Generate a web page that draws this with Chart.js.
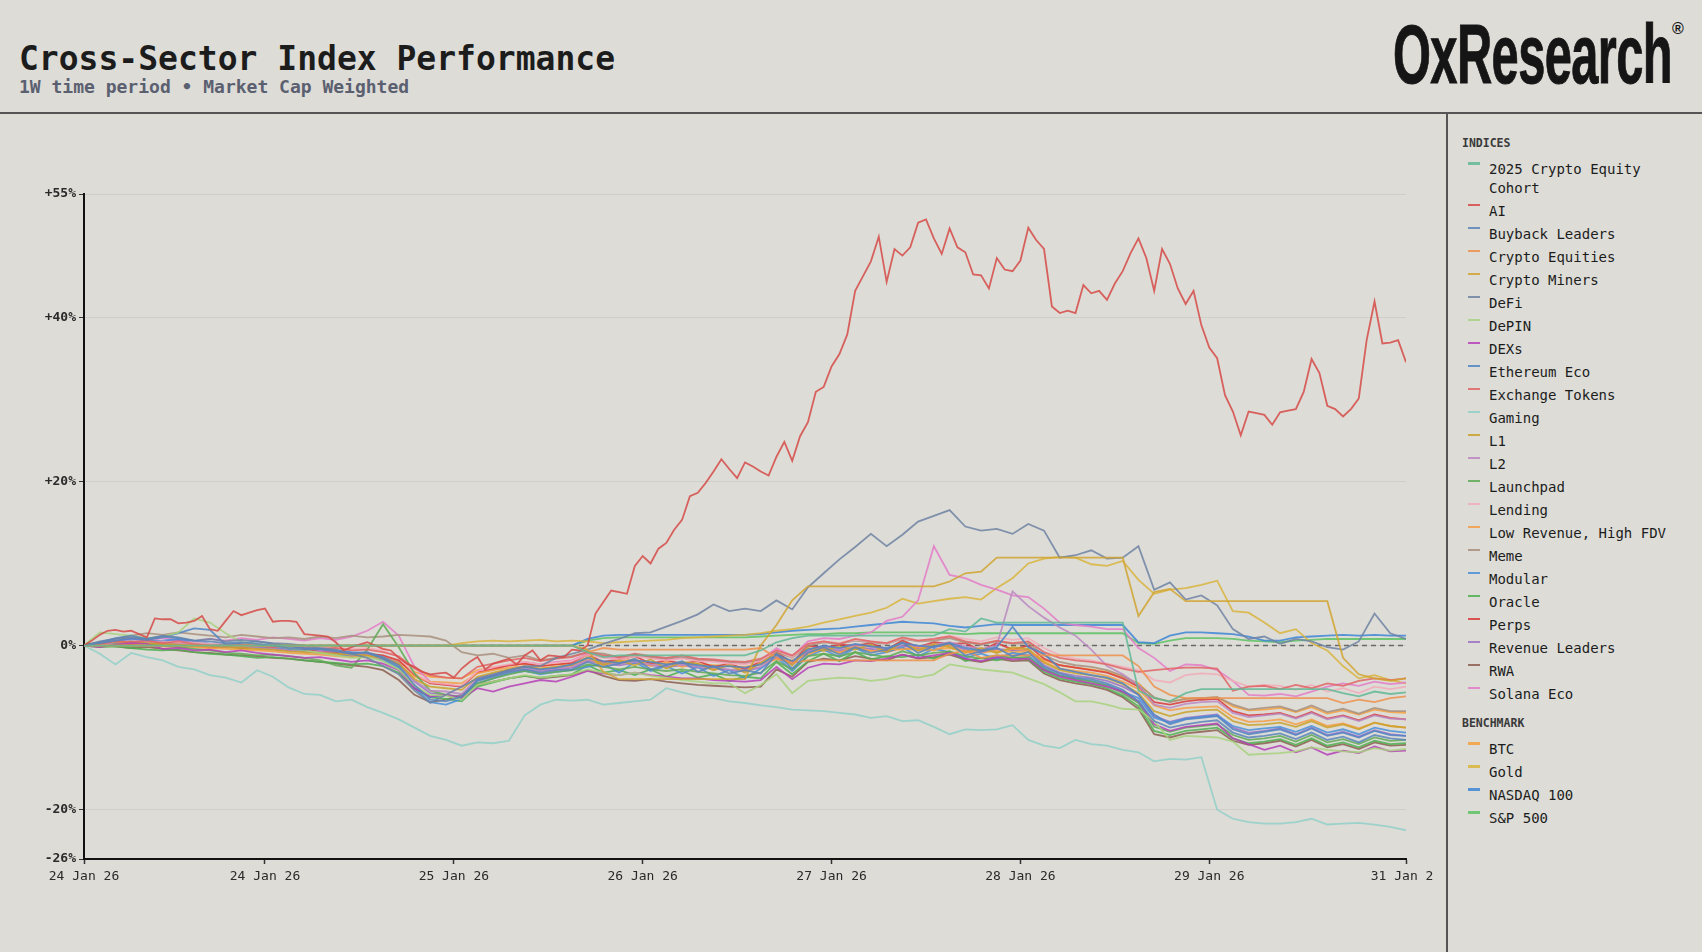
<!DOCTYPE html>
<html>
<head>
<meta charset="utf-8">
<script src="https://cdn.jsdelivr.net/npm/chart.js@4.4.1/dist/chart.umd.min.js"></script>
<style>
  html, body { margin: 0; padding: 0; }
  body { width: 1702px; height: 952px; background: #dddcd7; position: relative; overflow: hidden;
         font-family: 'DejaVu Sans Mono', monospace; color: #1c1c1c; }
  #title { position: absolute; left: 19px; top: 40px; font-size: 33px; font-weight: bold; line-height: 38px; white-space: nowrap; }
  #subtitle { position: absolute; left: 19px; top: 76px; font-size: 18px; font-weight: bold; line-height: 22px; color: #5b6070; white-space: nowrap; }
  #logo { position: absolute; left: 1393px; top: 13px; font-family: 'Liberation Sans', Arial, sans-serif; font-weight: bold;
          font-size: 83px; line-height: 83px; color: #151515; white-space: nowrap; transform-origin: left top; letter-spacing: -1px;
          -webkit-text-stroke: 1px #151515; }
  #reg { position: absolute; left: 1672px; top: 20px; font-family: 'Liberation Sans', Arial, sans-serif; font-weight: bold; font-size: 16px; color: #151515; }
  #hline { position: absolute; left: 0; top: 112px; width: 1702px; height: 1.5px; background: #555; }
  #vline { position: absolute; left: 1446px; top: 113px; width: 1.5px; height: 839px; background: #555; }
  #chartBox { position: absolute; left: 0; top: 113px; width: 1433px; height: 839px; overflow: hidden; }
  #legend { position: absolute; left: 1462px; top: 134px; width: 236px; }
  .lg-head { font-size: 11.5px; font-weight: bold; color: #3a3a3a; height: 18px; line-height: 18px; margin-bottom: 8px; }
  .lg-head.second { margin-top: 11px; }
  .lg-row { display: flex; align-items: flex-start; font-size: 14px; line-height: 18.5px; margin-bottom: 4.5px; color: #1c1c1c; }
  .lg-sw { flex: none; width: 12px; height: 2.5px; margin: 2px 9.5px 0 5.5px; }
  .lg-txt { width: 190px; }
</style>
</head>
<body>
<div id="title">Cross-Sector Index Performance</div>
<div id="subtitle">1W time period • Market Cap Weighted</div>
<div id="logo">OxResearch</div>
<div id="reg">®</div>
<div id="hline"></div>
<div id="vline"></div>
<div id="chartBox"><canvas id="perfChart" width="1500" height="839"></canvas></div>
<div id="legend"></div>

<script>
// x axis is hours since 24 Jan 00:00, one week
var tickHours = [0, 23, 47, 71, 95, 119, 143, 168];
var tickLabels = ['24 Jan 26', '24 Jan 26', '25 Jan 26', '26 Jan 26', '27 Jan 26', '28 Jan 26', '29 Jan 26', '31 Jan 26'];
var yTicks = [-26, -20, 0, 20, 40, 55];

// AI is sampled hourly, every other series every 2 hours (% change)
var ai = [
  0, 0.6, 1.3, 1.8, 1.9, 1.7, 1.8, 1.4, 1.0, 3.3,
  3.2, 3.2, 2.7, 2.8, 3.0, 3.6, 2.0, 1.8, 3.0, 4.2,
  3.7, 4.0, 4.3, 4.5, 2.9, 3.0, 3.0, 2.9, 1.4, 1.3,
  1.2, 1.1, 0.4, -0.6, -0.2, 0.1, 0.4, 0.0, -0.4, -0.6,
  -1.5, -2.2, -2.6, -3.2, -3.5, -3.4, -3.3, -3.9, -2.8, -2.0,
  -1.4, -2.9, -2.2, -1.9, -1.6, -2.3, -1.2, -0.6, -1.8, -1.2,
  -1.3, -1.4, -0.5, -0.6, 0.0, 3.9, 5.3, 6.7, 6.5, 6.3,
  9.7, 10.9, 10.0, 11.8, 12.5, 14.1, 15.3, 18.2, 18.6, 19.8,
  21.2, 22.7, 21.5, 20.4, 22.3, 21.8, 21.2, 20.7, 23.0, 24.8,
  22.5, 25.5, 27.2, 30.9, 31.5, 34.0, 35.5, 37.9, 43.2, 45.0,
  46.8, 49.8, 44.3, 48.3, 47.5, 48.5, 51.5, 51.9, 49.6, 47.7,
  50.8, 48.5, 47.9, 45.2, 45.1, 43.5, 47.2, 45.8, 45.6, 46.9,
  50.9, 49.4, 48.3, 41.3, 40.5, 40.8, 40.5, 43.9, 42.9, 43.2,
  42.1, 44.1, 45.6, 47.8, 49.6, 47.2, 43.2, 48.3, 46.5, 43.5,
  41.6, 43.2, 39.0, 36.3, 35.0, 30.5, 28.5, 25.6, 28.5, 28.3,
  28.1, 26.9, 28.4, 28.6, 28.8, 30.9, 34.9, 33.2, 29.2, 28.8,
  27.9, 28.8, 30.1, 37.2, 41.9, 36.8, 36.9, 37.2, 34.5
];
var cohort2025 = [
  0, 0, 0, 0, 0, 0, 0, 0, 0, 0,
  0, 0, 0, 0, 0, 0, 0, 0, 0, 0,
  0, 0, 0, 0, 0, 0, 0, 0, 0, 0,
  0, 0, -0.8, -1.4, -1.2, -1.2, -1.2, -1.2, -1.2, -1.2,
  -1.2, -1.2, -1.2, -0.6, 0.4, 0.9, 1.2, 1.2, 1.2, 1.2,
  1.2, 1.2, 1.2, 1.2, 1.2, 2.0, 1.7, 3.3, 2.8, 2.8,
  2.8, 2.8, 2.8, 2.8, 2.8, 2.8, 2.8, -5.5, -6.4, -6.8,
  -5.8, -5.3, -5.3, -5.3, -5.3, -5.3, -5.3, -5.3, -5.3, -5.3,
  -5.8, -6.2, -5.6, -5.9, -5.7
];
var buyback = [
  0, 0.4, 0.9, 1.2, 0.8, 1.1, 0.9, 0.6, 0.5, 0.3,
  0.4, 0.2, 0.0, -0.3, -0.5, -0.4, -0.7, -1.0, -0.8, -1.4,
  -2.4, -4.8, -6.6, -6.8, -6.2, -4.3, -3.8, -3.2, -2.9, -3.3,
  -3.0, -2.9, -2.0, -2.6, -2.2, -1.6, -2.9, -2.4, -1.9, -3.2,
  -2.5, -3.4, -3.0, -3.4, -1.0, -2.8, -0.9, -0.2, -1.1, -0.2,
  -0.9, -0.5, 0.4, -0.9, -0.1, 0.3, -1.2, -0.7, -0.3, -1.3,
  -0.8, -2.6, -3.4, -3.9, -4.1, -4.6, -5.4, -6.8, -9.2, -10.0,
  -9.6, -9.3, -9.1, -10.6, -11.2, -11.0, -10.7, -11.4, -10.6, -11.5,
  -11.1, -11.8, -10.9, -11.3, -11.5
];
var cryptoEquities = [
  0, 0, 0, 0, 0, 0, 0, 0, 0, 0,
  0, 0, 0, 0, 0, 0, 0, 0, 0, 0,
  0, 0, 0, 0, 0, 0, 0, 0, 0, 0,
  0, 0, -0.8, -0.3, -0.5, -0.5, -0.5, -0.5, -0.5, -0.5,
  -0.5, -0.5, -0.5, -0.3, -1.5, -2.1, -1.8, -1.8, -1.8, -1.8,
  -1.8, -1.8, -1.8, -1.8, -1.8, -1.0, -0.6, -1.5, -1.2, -1.2,
  -1.2, -1.2, -1.2, -1.2, -1.2, -1.2, -1.2, -2.5, -5.0, -6.0,
  -6.4, -6.4, -6.4, -6.4, -6.4, -6.4, -6.4, -6.4, -6.4, -6.4,
  -7.0, -6.6, -6.9, -6.4, -6.2
];
var cryptoMiners = [
  0, 0, 0, 0, 0, 0, 0, 0, 0, 0,
  0, 0, 0, 0, 0, 0, 0, 0, 0, 0,
  0, 0, 0, 0, 0, 0, 0, 0, 0, 0,
  0, 0, -0.5, -3.2, -4.1, -4.1, -4.1, -4.1, -4.1, -4.1,
  -4.1, -4.1, -4.1, 0.0, 2.5, 5.5, 7.2, 7.2, 7.2, 7.2,
  7.2, 7.2, 7.2, 7.2, 7.2, 7.8, 8.8, 9.0, 10.7, 10.7,
  10.7, 10.7, 10.7, 10.7, 10.7, 10.7, 10.7, 3.6, 6.5, 6.9,
  5.4, 5.4, 5.4, 5.4, 5.4, 5.4, 5.4, 5.4, 5.4, 5.4,
  -1.5, -3.5, -4.0, -4.3, -4.0
];
var defi = [
  0, 0.5, 0.8, 1.0, 0.8, 1.2, 1.0, 0.6, 0.8, 0.5,
  0.7, 0.5, 0.3, 0.2, 0.0, -0.3, -0.5, -1.0, -1.5, -2.5,
  -3.5, -5.5, -7.0, -6.0, -5.0, -4.0, -3.5, -3.0, -2.5, -2.5,
  -1.5, -1.0, -0.5, 0.2, 0.8, 1.5, 1.6, 2.3, 3.0, 3.8,
  5.0, 4.2, 4.5, 4.2, 5.5, 4.4, 7.1, 8.8, 10.5, 12.0,
  13.6, 12.1, 13.5, 15.1, 15.8, 16.5, 14.5, 14.0, 14.2, 13.6,
  14.8, 14.0, 10.7, 11.0, 11.6, 10.6, 10.7, 12.1, 6.8, 7.7,
  5.6, 6.1, 4.9, 2.0, 0.8, 1.1, 0.2, 0.8, 0.5, -0.2,
  -0.5, 0.5, 3.9, 1.5, 0.8
];
var depin = [
  0, 1.6, 1.4, 1.2, 0.9, 1.1, 1.6, 3.3, 2.8, 1.5,
  0.4, 0.2, 0.0, -0.3, -0.6, -0.9, -1.2, -1.5, -1.4, -1.9,
  -2.9, -4.9, -6.0, -6.1, -6.6, -4.8, -4.4, -4.0, -3.6, -3.9,
  -3.7, -3.5, -2.9, -3.3, -3.6, -3.3, -3.7, -3.9, -4.2, -4.4,
  -4.6, -4.6, -5.8, -4.8, -3.5, -5.8, -4.3, -4.1, -3.9, -4.0,
  -4.3, -4.1, -3.6, -3.9, -3.5, -2.3, -2.6, -2.9, -3.1, -3.3,
  -4.0, -4.7, -5.7, -6.8, -6.8, -7.2, -7.7, -7.8, -9.2, -11.5,
  -11.0, -11.1, -11.2, -11.7, -13.3, -13.2, -13.1, -12.9, -12.4, -12.7,
  -12.9, -13.0, -12.5, -12.8, -12.6
];
var dexs = [
  0, -0.2, 0.1, 0.3, 0.2, -0.4, -0.3, -0.6, -0.5, -0.8,
  -0.6, -0.9, -1.1, -1.3, -1.5, -1.4, -1.7, -2.0, -1.8, -2.2,
  -3.0, -5.2, -6.2, -6.0, -6.4, -5.2, -5.6, -5.0, -4.6, -4.2,
  -4.4, -3.8, -3.1, -3.4, -3.6, -3.3, -3.6, -3.8, -4.0, -4.0,
  -4.2, -4.3, -4.4, -4.2, -2.6, -4.1, -2.7, -2.2, -2.3, -1.8,
  -1.9, -1.6, -1.1, -1.5, -1.2, -0.9, -1.6, -1.9, -1.4, -1.7,
  -1.6, -3.0, -3.8, -4.2, -4.6, -5.0, -5.6, -6.8, -9.6, -10.4,
  -9.9, -9.7, -9.5, -11.3, -12.0, -12.7, -12.2, -13.0, -12.4, -13.3,
  -12.8, -13.1, -12.3, -12.9, -12.8
];
var ethereumEco = [
  0, 0.3, 0.6, 0.9, 0.7, 1.0, 1.5, 2.1, 1.9, 0.1,
  0.3, 0.5, 0.2, -0.1, -0.3, -0.4, -0.6, -0.8, -0.9, -1.6,
  -2.6, -5.0, -6.3, -6.0, -6.5, -4.2, -3.6, -3.0, -2.6, -2.9,
  -2.7, -2.3, -1.5, -1.9, -2.1, -1.8, -2.0, -2.3, -2.1, -2.4,
  -2.6, -2.5, -2.7, -2.3, -1.1, -1.9, -0.5, 0.0, -0.3, 0.2,
  -0.1, -0.3, 0.3, 0.0, -0.2, 0.3, -0.3, -0.6, -0.2, 2.3,
  -0.2, -1.0, -2.8, -3.2, -3.6, -3.9, -4.6, -6.0, -8.4, -9.6,
  -9.0, -8.8, -8.6, -10.2, -10.8, -10.5, -10.2, -10.9, -10.1, -11.0,
  -10.6, -11.2, -10.4, -10.9, -11.0
];
var exchangeTokens = [
  0, 0.2, 0.5, 0.4, 0.6, 0.3, 0.5, 0.2, 0.0, -0.1,
  0.1, 0.0, -0.2, -0.1, -0.3, -0.4, -0.3, -0.6, -0.5, -0.8,
  -1.3, -2.8, -3.6, -3.9, -4.0, -2.6, -2.2, -1.8, -1.5, -1.9,
  -1.6, -1.4, -0.8, -1.2, -1.4, -1.0, -1.3, -1.5, -1.2, -1.6,
  -1.7, -1.9, -2.0, -1.6, -0.6, -1.2, 0.2, 0.5, 0.2, 0.8,
  0.5, 0.3, 1.0, 0.6, 0.8, 1.1, 0.5, 0.2, 0.6, 0.3,
  0.5, -0.8, -1.5, -1.8, -2.0, -2.3, -2.8, -3.2, -3.0, -2.8,
  -2.7, -2.7, -2.8, -5.5, -5.0, -4.9, -5.3, -4.8, -5.2, -4.6,
  -4.9, -4.3, -4.0, -4.2, -4.0
];
var gaming = [
  0, -1.0, -2.3, -0.9, -1.4, -1.8, -2.6, -2.9, -3.6, -3.9,
  -4.5, -3.0, -3.8, -5.1, -5.9, -6.0, -6.8, -6.6, -7.5, -8.2,
  -9.0, -10.0, -11.0, -11.5, -12.2, -11.8, -11.9, -11.6, -8.5, -7.2,
  -6.6, -6.7, -6.6, -7.2, -7.0, -6.8, -6.6, -5.2, -5.7, -6.2,
  -6.4, -6.8, -7.0, -7.3, -7.5, -7.8, -7.9, -8.0, -8.2, -8.4,
  -8.8, -8.6, -9.2, -9.1, -9.9, -10.8, -10.2, -10.3, -10.2, -9.7,
  -11.5, -12.2, -12.5, -11.5, -12.0, -12.2, -12.7, -13.0, -14.1, -13.8,
  -13.9, -13.6, -20.0, -21.1, -21.5, -21.7, -21.7, -21.5, -21.1, -21.8,
  -21.7, -21.6, -21.8, -22.1, -22.5
];
var l1 = [
  0, 0.3, 0.5, 0.4, 0.3, 0.2, 0.1, 0.0, -0.1, -0.2,
  -0.3, -0.4, -0.5, -0.7, -0.8, -0.9, -1.0, -1.1, -1.2, -1.5,
  -2.2, -4.1, -5.0, -5.2, -5.4, -3.8, -3.3, -2.9, -2.6, -2.8,
  -2.6, -2.4, -1.4, -2.3, -1.8, -2.4, -1.7, -2.8, -2.0, -2.2,
  -3.0, -2.4, -3.3, -2.1, -1.0, -2.4, -0.3, -0.6, -0.1, -0.5,
  0.1, -0.8, 0.4, -0.6, 0.2, -0.2, -0.8, -0.3, -0.9, -0.2,
  -0.4, -2.1, -3.0, -3.4, -3.6, -4.0, -4.7, -5.8, -8.0, -8.6,
  -8.1, -7.9, -7.8, -9.2, -9.7, -9.6, -9.4, -9.9, -9.2, -10.0,
  -9.6, -10.2, -9.4, -9.8, -10.0
];
var l2 = [
  0, 0.1, 0.4, 0.5, 0.3, 0.4, 0.2, 0.1, 0.0, -0.2,
  -0.1, -0.3, -0.4, -0.6, -0.7, -0.8, -1.0, -1.1, -1.0, -1.4,
  -2.1, -4.3, -5.5, -5.6, -5.9, -4.0, -3.5, -3.1, -2.8, -3.0,
  -2.8, -2.6, -1.8, -2.1, -2.3, -2.0, -2.3, -2.5, -2.3, -2.6,
  -2.7, -2.9, -3.0, -2.6, -1.3, -2.2, -0.5, -0.2, -0.4, 0.1,
  -0.2, -0.4, 0.3, -0.1, 0.1, 0.4, -0.1, -0.4, 0.0, 6.6,
  4.8, 3.4, 2.2, 1.2, -0.5, -2.5, -3.5, -4.8, -7.2, -7.6,
  -7.1, -6.9, -6.8, -8.2, -8.7, -8.5, -8.3, -8.9, -8.2, -9.0,
  -8.6, -9.2, -8.5, -8.9, -9.0
];
var launchpad = [
  0, 0.4, 0.3, 0.5, 0.2, 0.0, -0.2, -0.4, -0.6, -0.9,
  -1.0, -1.2, -1.1, -1.3, -1.5, -1.8, -2.4, -2.7, -0.5, 2.6,
  -0.2, -3.4, -5.5, -6.0, -6.3, -4.6, -4.0, -3.5, -3.1, -3.4,
  -3.2, -3.0, -2.3, -2.6, -2.9, -2.6, -2.9, -3.1, -2.9, -3.2,
  -3.4, -3.6, -3.7, -3.3, -1.9, -2.9, -1.3, -1.0, -1.3, -0.8,
  -1.1, -1.4, -0.7, -1.2, -0.9, -0.7, -1.3, -1.6, -1.2, -1.5,
  -1.4, -2.9, -3.7, -4.1, -4.4, -4.9, -5.8, -7.0, -9.9, -10.5,
  -10.0, -9.8, -9.6, -10.9, -11.5, -11.3, -11.0, -11.7, -10.9, -11.8,
  -11.4, -12.0, -11.2, -11.6, -11.5
];
var lending = [
  0, 0.2, 0.3, 0.6, 0.4, 0.5, 0.3, 0.4, 0.2, 0.3,
  0.1, 0.2, 0.0, -0.1, -0.2, -0.1, -0.3, -0.4, -0.3, -0.6,
  -1.4, -3.4, -4.5, -4.7, -4.9, -3.1, -2.6, -2.3, -2.0, -2.3,
  -2.1, -1.9, -1.1, -1.5, -1.7, -1.3, -1.6, -1.8, -1.6, -1.9,
  -2.0, -2.2, -2.3, -1.9, -0.6, -1.4, 0.2, 0.5, 0.3, 0.7,
  0.5, 0.3, 0.9, 0.6, 0.8, 1.2, 0.8, 0.5, 1.0, 0.7,
  0.9, -0.3, -1.2, -1.6, -1.8, -2.2, -2.6, -3.0, -4.2, -4.5,
  -3.6, -3.4, -3.5, -4.3, -5.0, -4.8, -4.9, -5.4, -4.8, -5.6,
  -5.2, -5.8, -5.0, -5.3, -5.0
];
var lowRevenue = [
  0, 0.1, 0.2, 0.3, 0.1, 0.0, -0.1, -0.2, -0.3, -0.4,
  -0.5, -0.6, -0.7, -0.9, -1.0, -1.1, -1.3, -1.4, -1.3, -1.6,
  -2.3, -3.8, -4.4, -4.5, -4.6, -3.4, -3.0, -2.7, -2.5, -2.8,
  -2.6, -2.4, -1.6, -2.4, -1.9, -1.7, -2.5, -2.0, -2.6, -2.2,
  -2.9, -2.3, -3.1, -2.2, -1.7, -1.8, -1.1, -0.3, -0.9, -0.1,
  -0.7, -0.4, -0.5, -0.2, -0.6, 0.1, -0.9, -0.5, -0.8, -0.4,
  -0.6, -2.0, -2.8, -3.1, -3.3, -3.7, -4.4, -5.3, -7.3, -7.9,
  -7.6, -7.5, -7.4, -8.7, -9.3, -9.2, -9.0, -9.6, -9.0, -9.8,
  -9.5, -10.1, -9.4, -9.8, -10.0
];
var meme = [
  0, 0.4, 0.8, 1.2, 1.5, 1.3, 1.6, 1.4, 1.2, 1.0,
  1.3, 1.1, 0.9, 1.0, 0.8, 1.1, 0.9, 1.2, 1.0, 1.1,
  1.3, 1.2, 1.1, 0.6, -0.8, -1.2, -1.0, -1.5, -1.2, -1.8,
  -1.5, -1.3, -0.8, -1.0, -1.4, -1.1, -1.4, -1.6, -1.4, -1.7,
  -1.8, -2.0, -2.1, -1.8, -0.8, -1.5, 0.0, 0.4, 0.2, 0.6,
  0.4, 0.2, 0.8, 0.5, 0.6, 0.9, 0.4, 0.1, 0.5, 0.2,
  0.3, -1.2, -2.0, -2.4, -2.6, -3.0, -3.7, -4.8, -6.3, -6.9,
  -6.5, -6.4, -6.3, -7.2, -7.8, -7.6, -7.4, -8.0, -7.3, -8.1,
  -7.7, -8.3, -7.6, -8.0, -8.0
];
var modular = [
  0, 0.2, 0.4, 0.7, 0.5, 0.6, 0.8, 0.5, 0.2, 0.1,
  0.0, -0.2, -0.4, -0.5, -0.7, -0.9, -1.1, -1.3, -1.2, -1.8,
  -2.8, -5.2, -6.9, -7.2, -6.5, -4.6, -4.0, -3.4, -3.1, -3.5,
  -3.2, -3.0, -2.6, -2.2, -3.3, -2.0, -3.1, -2.5, -3.4, -2.6,
  -3.7, -3.0, -4.0, -2.8, -1.4, -3.1, -1.3, -0.5, -1.4, -0.3,
  -1.2, -0.8, -0.2, -1.3, -0.4, -0.8, -1.5, -1.0, -1.6, -0.9,
  -1.2, -2.8, -3.6, -4.0, -4.3, -4.8, -5.6, -6.4, -8.8, -9.4,
  -8.9, -8.7, -8.5, -9.8, -10.3, -10.1, -9.9, -10.5, -9.8, -10.6,
  -10.2, -10.8, -10.0, -10.4, -10.6
];
var oracle = [
  0, -0.2, -0.1, -0.3, -0.5, -0.6, -0.5, -0.8, -1.0, -1.1,
  -1.3, -1.5, -1.4, -1.6, -1.8, -2.0, -2.1, -2.3, -2.2, -2.5,
  -3.3, -5.3, -6.3, -6.5, -6.8, -5.0, -4.5, -4.0, -3.7, -3.9,
  -3.7, -3.5, -2.4, -3.3, -3.0, -3.6, -2.9, -3.8, -3.1, -3.9,
  -3.5, -4.3, -3.8, -4.0, -2.0, -3.5, -1.9, -1.0, -1.9, -0.8,
  -1.7, -1.3, -1.4, -1.1, -1.6, -0.7, -1.9, -1.5, -1.8, -1.4,
  -1.7, -3.2, -4.0, -4.4, -4.7, -5.2, -6.1, -7.4, -10.4, -10.9,
  -10.4, -10.2, -10.0, -11.3, -11.9, -11.7, -11.4, -12.1, -11.3, -12.2,
  -11.8, -12.4, -11.6, -12.0, -11.9
];
var perps = [
  0, 0.1, 0.3, 0.2, 0.4, 0.1, 0.2, 0.0, -0.2, -0.1,
  -0.3, -0.2, -0.4, -0.6, -0.5, -0.8, -0.9, -1.1, -1.0, -1.2,
  -1.8, -3.6, -4.6, -4.8, -5.0, -3.3, -2.9, -2.4, -2.2, -2.5,
  -2.3, -2.1, -1.1, -2.0, -1.7, -1.3, -2.2, -1.8, -2.2, -1.9,
  -2.6, -2.2, -2.9, -1.9, -0.8, -2.1, 0.0, -0.3, 0.1, 0.0,
  0.3, -0.5, 0.6, -0.2, 0.4, 0.2, 0.3, -0.6, 0.3, -0.5,
  0.0, -1.6, -2.4, -2.7, -3.0, -3.3, -4.0, -5.0, -6.9, -7.2,
  -6.8, -6.6, -6.5, -8.0, -8.5, -8.4, -8.2, -8.8, -8.1, -8.9,
  -8.5, -9.1, -8.4, -8.8, -9.0
];
var revenueLeaders = [
  0, 0.2, 0.6, 0.8, 0.6, 0.5, 0.7, 0.4, 0.2, 0.1,
  0.2, 0.0, -0.2, -0.4, -0.5, -0.6, -0.8, -0.9, -1.0, -1.4,
  -2.2, -4.4, -5.8, -6.0, -6.2, -4.2, -3.7, -3.2, -2.9, -3.1,
  -2.9, -2.7, -1.9, -2.2, -2.4, -2.1, -2.4, -2.6, -2.4, -2.7,
  -2.8, -3.0, -3.1, -2.7, -1.4, -2.3, -0.7, -0.4, -0.6, -0.2,
  -0.4, -0.6, 0.0, -0.4, -0.2, 0.1, -0.5, -0.8, -0.4, -0.6,
  -0.5, -2.4, -3.3, -3.7, -3.9, -4.3, -5.0, -6.0, -8.6, -9.3,
  -8.8, -8.6, -8.4, -10.0, -10.6, -10.4, -10.1, -10.8, -10.0, -10.9,
  -10.5, -11.1, -10.3, -10.8, -11.0
];
var rwa = [
  0, 0.1, -0.1, -0.3, -0.2, -0.4, -0.6, -0.8, -0.9, -1.1,
  -1.2, -1.3, -1.5, -1.6, -1.8, -2.0, -2.2, -2.4, -2.6, -3.0,
  -4.2, -6.0, -6.9, -6.6, -6.0, -4.8, -4.4, -4.0, -3.7, -4.0,
  -3.8, -3.6, -3.0, -3.7, -4.2, -4.3, -4.1, -4.4, -4.6, -4.8,
  -4.9, -5.0, -5.1, -5.0, -2.9, -3.8, -2.0, -1.6, -1.8, -1.3,
  -1.6, -1.8, -1.1, -1.6, -1.4, -1.1, -1.7, -2.0, -1.6, -1.9,
  -1.8, -3.4, -4.2, -4.6, -4.9, -5.4, -6.3, -7.7, -10.8, -11.2,
  -10.7, -10.5, -10.3, -11.6, -12.1, -11.9, -11.6, -12.3, -11.5, -12.4,
  -12.0, -12.6, -11.8, -12.2, -12.1
];
var solanaEco = [
  0, 0.3, 0.5, 0.8, 0.6, 0.9, 0.7, 0.5, 0.8, 0.6,
  0.9, 0.7, 1.0, 0.8, 0.6, 0.9, 0.7, 1.1, 1.8, 2.9,
  1.2, -2.6, -4.4, -4.8, -5.0, -3.2, -2.8, -2.4, -2.0, -2.3,
  -2.0, -1.8, -1.0, -1.4, -1.6, -1.2, -1.5, -1.7, -1.5, -1.8,
  -1.9, -2.1, -2.2, -1.8, -0.3, -1.3, 0.5, 0.9, 0.8, 1.2,
  1.6, 3.0, 3.5, 5.5, 12.1, 8.6, 8.2, 7.4, 6.8, 6.1,
  5.9, 4.5, 2.8, 2.5, 2.3, 2.0, 2.0, -0.3, -1.5, -3.1,
  -2.3, -2.4, -3.0, -4.3, -6.0, -6.1, -5.9, -6.2, -5.6, -5.0,
  -4.6, -4.9, -4.4, -4.7, -4.5
];
var btc = [
  0, 0.1, 0.2, 0.1, 0.0, -0.1, -0.2, -0.1, -0.3, -0.2,
  -0.3, -0.4, -0.5, -0.6, -0.7, -0.8, -0.9, -1.0, -1.0, -1.3,
  -2.0, -3.2, -3.8, -3.9, -4.0, -3.0, -2.7, -2.4, -2.2, -2.5,
  -2.3, -2.2, -1.8, -2.0, -2.1, -1.9, -2.1, -2.2, -2.1, -2.3,
  -2.4, -2.5, -2.6, -2.3, -1.4, -1.9, -0.9, -0.6, -0.8, -0.4,
  -0.6, -0.8, -0.3, -0.6, -0.5, -0.3, -0.7, -0.9, -0.6, -0.8,
  -0.7, -1.8, -2.4, -2.7, -2.9, -3.2, -3.8, -4.6, -6.4, -6.8,
  -6.5, -6.4, -6.3, -7.4, -7.9, -7.8, -7.6, -8.1, -7.5, -8.3,
  -7.9, -8.4, -7.8, -8.1, -8.2
];
var gold = [
  0, 0, 0, 0, 0, 0, 0, 0, 0, 0,
  0, 0, 0, 0, 0, 0, 0, 0, 0, 0,
  0, 0, 0, 0, 0.3, 0.5, 0.6, 0.5, 0.6, 0.7,
  0.5, 0.6, 0.5, 0.3, 0.4, 0.5, 0.6, 0.7, 0.9, 1.0,
  1.1, 1.2, 1.3, 1.5, 1.8, 2.0, 2.3, 2.8, 3.2, 3.6,
  4.0, 4.6, 5.7, 5.1, 5.4, 5.7, 5.9, 5.6, 7.0, 8.2,
  10.0, 10.6, 10.8, 10.7, 9.9, 9.7, 10.3, 8.0, 6.3, 6.8,
  7.0, 7.4, 7.9, 4.2, 4.0, 2.8, 1.5, 2.0, 0.3, -0.6,
  -2.5, -4.0, -3.6, -4.2, -4.6
];
var nasdaq100 = [
  0, 0, 0, 0, 0, 0, 0, 0, 0, 0,
  0, 0, 0, 0, 0, 0, 0, 0, 0, 0,
  0, 0, 0, 0, 0, 0, 0, 0, 0, 0,
  0, 0, 0.8, 1.2, 1.3, 1.3, 1.3, 1.3, 1.3, 1.3,
  1.3, 1.3, 1.3, 1.4, 1.6, 1.8, 1.9, 2.0, 2.1, 2.3,
  2.5, 2.7, 2.9, 2.8, 2.7, 2.4, 2.2, 2.4, 2.6, 2.5,
  2.5, 2.5, 2.5, 2.5, 2.5, 2.5, 2.5, 0.4, 0.3, 1.2,
  1.6, 1.6, 1.5, 1.4, 1.1, 0.6, 0.6, 1.0, 1.1, 1.2,
  1.3, 1.2, 1.3, 1.2, 1.2
];
var sp500 = [
  0, 0, 0, 0, 0, 0, 0, 0, 0, 0,
  0, 0, 0, 0, 0, 0, 0, 0, 0, 0,
  0, 0, 0, 0, 0, 0, 0, 0, 0, 0,
  0, 0, 0.6, 0.9, 1.0, 1.0, 1.0, 1.0, 1.0, 1.0,
  1.0, 1.0, 1.0, 1.1, 1.2, 1.3, 1.4, 1.4, 1.5, 1.5,
  1.6, 1.6, 1.6, 1.6, 1.6, 1.5, 1.4, 1.5, 1.5, 1.5,
  1.5, 1.5, 1.5, 1.5, 1.5, 1.5, 1.5, 0.3, 0.2, 0.6,
  0.9, 0.9, 0.9, 0.8, 0.6, 0.5, 0.4, 0.6, 0.7, 0.8,
  0.8, 0.8, 0.8, 0.8, 0.8
];

var indexNames = ['2025 Crypto Equity Cohort', 'AI', 'Buyback Leaders', 'Crypto Equities', 'Crypto Miners', 'DeFi', 'DePIN', 'DEXs',
  'Ethereum Eco', 'Exchange Tokens', 'Gaming', 'L1', 'L2', 'Launchpad', 'Lending', 'Low Revenue, High FDV', 'Meme', 'Modular',
  'Oracle', 'Perps', 'Revenue Leaders', 'RWA', 'Solana Eco'];
var indexValues = [cohort2025, ai, buyback, cryptoEquities, cryptoMiners, defi, depin, dexs,
  ethereumEco, exchangeTokens, gaming, l1, l2, launchpad, lending, lowRevenue, meme, modular,
  oracle, perps, revenueLeaders, rwa, solanaEco];
var indexColors = ['#5fb894', '#d64a47', '#5b85b8', '#f0904a', '#d1a530', '#6f82a3', '#a8d27e', '#b640b8',
  '#4f84c4', '#e06464', '#92d0c9', '#c9a22a', '#bb88c2', '#5faa55', '#f2abb9', '#f59c45', '#a88f7e', '#4a8fd9',
  '#4caf50', '#d93b3b', '#9b72c4', '#8c5e50', '#e47cc8'];

var benchNames = ['BTC', 'Gold', 'NASDAQ 100', 'S&P 500'];
var benchValues = [btc, gold, nasdaq100, sp500];
var benchColors = ['#f5a03c', '#d9b43c', '#3d86d6', '#5dc260'];

function toPoints(vals) {
  var step = 168 / (vals.length - 1);
  return vals.map(function (v, i) { return { x: i * step, y: v }; });
}

function makeDataset(name, color, vals) {
  return {
    label: name,
    data: toPoints(vals),
    borderColor: color + 'd9',
    backgroundColor: color,
    borderWidth: 1.8,
    pointRadius: 0,
    tension: 0,
    fill: false
  };
}

var datasets = [];
for (var i = 0; i < indexNames.length; i++) {
  datasets.push(makeDataset(indexNames[i], indexColors[i], indexValues[i]));
}
for (var j = 0; j < benchNames.length; j++) {
  datasets.push(makeDataset(benchNames[j], benchColors[j], benchValues[j]));
}

// dashed 0% reference line, drawn under the series
var zeroLinePlugin = {
  id: 'zeroLine',
  beforeDatasetsDraw: function (chart) {
    var y = chart.scales.y.getPixelForValue(0);
    var a = chart.chartArea;
    var c = chart.ctx;
    c.save();
    c.strokeStyle = '#6a6a6a';
    c.lineWidth = 1.5;
    c.setLineDash([5, 4]);
    c.beginPath();
    c.moveTo(a.left, y);
    c.lineTo(a.right, y);
    c.stroke();
    c.restore();
  }
};

var ctx = document.getElementById('perfChart').getContext('2d');
var perfChart = new Chart(ctx, {
  type: 'line',
  data: { datasets: datasets },
  options: {
    responsive: false,
    animation: false,
    events: [],
    layout: { padding: { left: 0, right: 94, top: 81, bottom: 63 } },
    plugins: { legend: { display: false }, tooltip: { enabled: false } },
    scales: {
      x: {
        type: 'linear',
        min: 0,
        max: 168,
        afterBuildTicks: function (scale) {
          scale.ticks = tickHours.map(function (h) { return { value: h }; });
        },
        afterFit: function (scale) { scale.height = 30; },
        grid: { drawOnChartArea: false, drawTicks: true, tickLength: 5, tickColor: '#333', tickWidth: 1.5 },
        border: { display: true, color: '#111', width: 2 },
        ticks: {
          autoSkip: false, maxRotation: 0, padding: 5, color: '#2a2a2a',
          font: { family: 'DejaVu Sans Mono', size: 13 },
          callback: function (v, idx) { return tickLabels[idx]; }
        }
      },
      y: {
        min: -26,
        max: 55,
        afterBuildTicks: function (scale) {
          scale.ticks = yTicks.map(function (v) { return { value: v }; });
        },
        afterFit: function (scale) { scale.width = 84; },
        grid: { color: '#d0cec8', lineWidth: 1, drawTicks: true, tickLength: 5, tickColor: '#333' },
        border: { display: true, color: '#111', width: 2 },
        ticks: {
          padding: 3, color: '#2a2a2a',
          font: { family: 'DejaVu Sans Mono', size: 13, weight: 'bold' },
          callback: function (v) { return v > 0 ? '+' + v + '%' : v + '%'; }
        }
      }
    }
  },
  plugins: [zeroLinePlugin]
});

// html legend built from the same series lists
function legendHead(text, cls) {
  var d = document.createElement('div');
  d.className = 'lg-head' + (cls ? ' ' + cls : '');
  d.textContent = text;
  return d;
}
function legendRow(name, color) {
  var r = document.createElement('div');
  r.className = 'lg-row';
  var sw = document.createElement('span');
  sw.className = 'lg-sw';
  sw.style.background = color + 'd9';
  var t = document.createElement('span');
  t.className = 'lg-txt';
  t.textContent = name;
  r.appendChild(sw);
  r.appendChild(t);
  return r;
}
var legendBox = document.getElementById('legend');
legendBox.appendChild(legendHead('INDICES'));
indexNames.forEach(function (n, k) { legendBox.appendChild(legendRow(n, indexColors[k])); });
legendBox.appendChild(legendHead('BENCHMARK', 'second'));
benchNames.forEach(function (n, k) { legendBox.appendChild(legendRow(n, benchColors[k])); });

// squeeze the logo word into its condensed width
var logo = document.getElementById('logo');
var logoW = logo.getBoundingClientRect().width;
logo.style.transform = 'scaleX(' + (279 / logoW) + ')';
</script>
</body>
</html>
